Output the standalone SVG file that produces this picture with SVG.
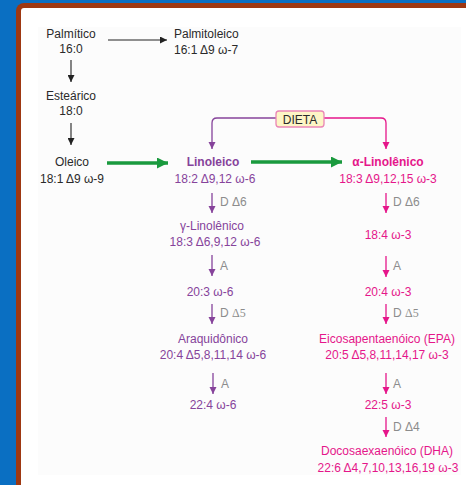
<svg xmlns="http://www.w3.org/2000/svg" width="466" height="485" viewBox="0 0 466 485">
<style>
text{font-family:"Liberation Sans",Arial,sans-serif;font-size:12px}
.k{fill:#2a2a2a}
.p{fill:#86439b}
.m{fill:#e5168a}
.g{fill:#8c8c8c}
.b{font-weight:bold}
.c{text-anchor:middle}
.lk{stroke:#222;stroke-width:1.1;fill:none}
.lp{stroke:#86439b;stroke-width:1.3;fill:none}
.lm{stroke:#e5168a;stroke-width:1.3;fill:none}
.lg{stroke:#1a9a3e;stroke-width:3.6;fill:none}
</style>
<defs>
<marker id="ak" viewBox="0 0 10 10" refX="10" refY="5" markerWidth="7" markerHeight="7" markerUnits="userSpaceOnUse" orient="auto"><path d="M0,0 L10,5 L0,10z" fill="#222"/></marker>
<marker id="ap" viewBox="0 0 10 10" refX="10" refY="5" markerWidth="7" markerHeight="8" markerUnits="userSpaceOnUse" orient="auto"><path d="M0,0 L10,5 L0,10z" fill="#86439b"/></marker>
<marker id="am" viewBox="0 0 10 10" refX="10" refY="5" markerWidth="7" markerHeight="8" markerUnits="userSpaceOnUse" orient="auto"><path d="M0,0 L10,5 L0,10z" fill="#e5168a"/></marker>
<marker id="ag" viewBox="0 0 10 10" refX="10" refY="5" markerWidth="11" markerHeight="11" markerUnits="userSpaceOnUse" orient="auto"><path d="M0,0 L10,5 L0,10z" fill="#1a9a3e"/></marker>
</defs>
<rect x="0" y="0" width="466" height="485" fill="#0a6fc2"/>
<rect x="16" y="3" width="470" height="500" rx="8" fill="#9e3812"/>
<rect x="21" y="8" width="460" height="490" rx="3" fill="#ffffff"/>
<rect x="38" y="27" width="423" height="448" fill="#fcfcfc"/>

<g id="connectors">
<line class="lk" x1="108" y1="40" x2="167" y2="40" marker-end="url(#ak)"/>
<line class="lk" x1="71" y1="60" x2="71" y2="82" marker-end="url(#ak)"/>
<line class="lk" x1="71" y1="123" x2="71" y2="145" marker-end="url(#ak)"/>
<line class="lg" x1="107" y1="163" x2="168" y2="163" marker-end="url(#ag)"/>
<line class="lg" x1="251" y1="162" x2="342" y2="162" marker-end="url(#ag)"/>
<path class="lp" d="M276,118 H217 Q212,118 212,123 V149" marker-end="url(#ap)"/>
<path class="lm" d="M324,118 H381 Q386,118 386,123 V149" marker-end="url(#am)"/>
<line class="lp" x1="212" y1="193" x2="212" y2="213" marker-end="url(#ap)"/>
<line class="lp" x1="212" y1="255" x2="212" y2="276" marker-end="url(#ap)"/>
<line class="lp" x1="212" y1="304" x2="212" y2="324" marker-end="url(#ap)"/>
<line class="lp" x1="213" y1="373" x2="213" y2="394" marker-end="url(#ap)"/>
<line class="lm" x1="386" y1="193" x2="386" y2="213" marker-end="url(#am)"/>
<line class="lm" x1="386" y1="256" x2="386" y2="277" marker-end="url(#am)"/>
<line class="lm" x1="386" y1="304" x2="386" y2="324" marker-end="url(#am)"/>
<line class="lm" x1="386" y1="373" x2="386" y2="394" marker-end="url(#am)"/>
<line class="lm" x1="386" y1="417" x2="386" y2="437" marker-end="url(#am)"/>
</g>

<g id="labels">
<text class="g" x="220" y="206">D Δ6</text>
<text class="g" x="220" y="270">A</text>
<text class="g" x="220" y="317">D <tspan font-family="'Liberation Serif',serif">Δ5</tspan></text>
<text class="g" x="221" y="388">A</text>
<text class="g" x="393" y="206">D Δ6</text>
<text class="g" x="393" y="270">A</text>
<text class="g" x="393" y="317">D <tspan font-family="'Liberation Serif',serif">Δ5</tspan></text>
<text class="g" x="393" y="388">A</text>
<text class="g" x="393" y="431">D Δ4</text>
</g>

<g id="palmitico"><text class="k c" x="71" y="38">Palmítico</text><text class="k c" x="71" y="53">16:0</text></g>
<g id="palmitoleico"><text class="k" x="174" y="38">Palmitoleico</text><text class="k" x="174" y="54">16:1 Δ9 ω-7</text></g>
<g id="estearico"><text class="k c" x="71" y="100">Esteárico</text><text class="k c" x="71" y="115">18:0</text></g>
<g id="oleico"><text class="k c" x="72" y="166">Oleico</text><text class="k c" x="72" y="183">18:1 Δ9 ω-9</text></g>
<g id="dieta"><rect x="276" y="111" width="48" height="16" rx="3" fill="#fdf5c6" stroke="#ea86b6" stroke-width="1.3"/><text class="k c" x="300" y="123.5">DIETA</text></g>
<g id="linoleico"><text class="p b c" x="213" y="166">Linoleico</text><text class="p c" x="215" y="183">18:2 Δ9,12 ω-6</text></g>
<g id="alinolenico"><text class="m b c" x="388" y="166">α-Linolênico</text><text class="m c" x="388" y="183">18:3 Δ9,12,15 ω-3</text></g>
<g id="glinolenico"><text class="p c" x="212" y="230">γ-Linolênico</text><text class="p c" x="215" y="246">18:3 Δ6,9,12 ω-6</text></g>
<g id="n203"><text class="p c" x="210" y="296">20:3 ω-6</text></g>
<g id="araquidonico"><text class="p c" x="213" y="343">Araquidônico</text><text class="p c" x="213" y="359">20:4 Δ5,8,11,14 ω-6</text></g>
<g id="n224"><text class="p c" x="213" y="409">22:4 ω-6</text></g>
<g id="n184"><text class="m c" x="388" y="239">18:4 ω-3</text></g>
<g id="n204"><text class="m c" x="388" y="296">20:4 ω-3</text></g>
<g id="epa"><text class="m c" x="387" y="343">Eicosapentaenóico (EPA)</text><text class="m c" x="387" y="359">20:5 Δ5,8,11,14,17 ω-3</text></g>
<g id="n225"><text class="m c" x="388" y="409">22:5 ω-3</text></g>
<g id="dha"><text class="m c" x="387" y="455">Docosaexaenóico (DHA)</text><text class="m c" x="388" y="472">22:6 Δ4,7,10,13,16,19 ω-3</text></g>
</svg>
